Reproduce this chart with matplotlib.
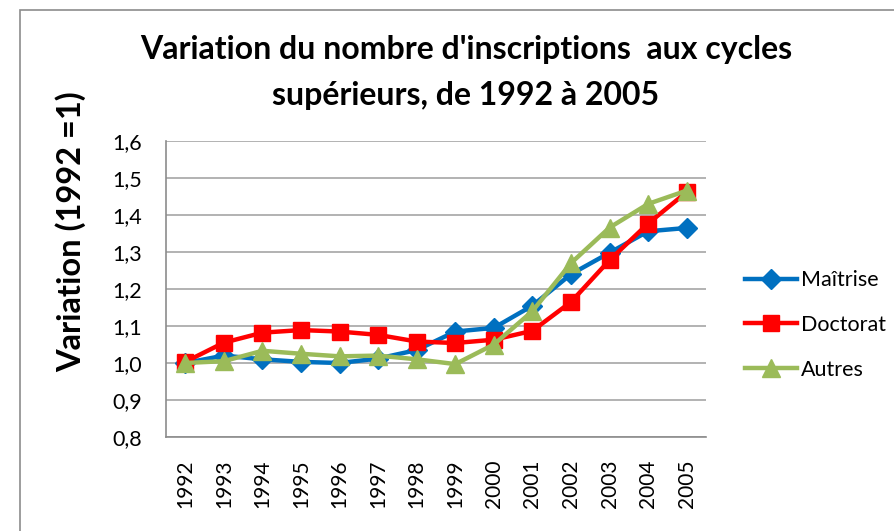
import matplotlib.pyplot as plt
from matplotlib.patches import Rectangle

years = ['1992', '1993', '1994', '1995', '1996', '1997', '1998',
         '1999', '2000', '2001', '2002', '2003', '2004', '2005']
maitrise = [1.0, 1.02, 1.01, 1.003, 1.0, 1.012, 1.035,
            1.085, 1.095, 1.155, 1.24, 1.298, 1.356, 1.365]
doctorat = [1.003, 1.055, 1.082, 1.089, 1.085, 1.076, 1.058,
            1.054, 1.063, 1.087, 1.165, 1.278, 1.377, 1.462]
autres = [1.0, 1.005, 1.033, 1.025, 1.018, 1.02, 1.01,
          0.997, 1.05, 1.14, 1.27, 1.366, 1.43, 1.466]

plt.rcParams['font.family'] = ['Lato', 'DejaVu Sans']

W, H = 895, 531
fig = plt.figure(figsize=(W / 100, H / 100), dpi=100)
ax = fig.add_axes([166 / W, 1 - 437 / H, 540 / W, 296 / H])

# chart frame
fig.patches.append(Rectangle((20 / W, -0.1), 1.0, 1 - 10 / H + 0.1,
                             transform=fig.transFigure, fill=False,
                             edgecolor='#8c8c8c', linewidth=1.2))

x = range(len(years))
ax.plot(x, maitrise, color='#0070C0', lw=3.2, marker='D', ms=10,
        label='Maîtrise', zorder=3)
ax.plot(x, doctorat, color='#FF0000', lw=3.2, marker='s', ms=12,
        label='Doctorat', zorder=4)
ax.plot(x, autres, color='#9BBB59', lw=3.2, marker='^', ms=13,
        label='Autres', zorder=5)

ax.set_xlim(-0.5, len(years) - 0.5)
ax.set_ylim(0.8, 1.6)
ax.set_yticks([0.8, 0.9, 1.0, 1.1, 1.2, 1.3, 1.4, 1.5, 1.6])
ax.set_yticklabels(['0,8', '0,9', '1,0', '1,1', '1,2', '1,3', '1,4', '1,5', '1,6'],
                   fontsize=15.5)
ax.set_xticks(list(x))
ax.set_xticklabels(years, rotation=90, fontsize=15)
ax.tick_params(axis='y', length=0, pad=17)
ax.tick_params(axis='x', length=0, pad=16)
ax.grid(axis='y', color='#a6a6a6', lw=1.2)
ax.set_axisbelow(True)
for s in ['top', 'right']:
    ax.spines[s].set_visible(False)
for s in ['left', 'bottom']:
    ax.spines[s].set_color('#8c8c8c')
    ax.spines[s].set_linewidth(1.2)

ax.set_ylabel('Variation (1992 =1)', fontsize=23.5, fontweight='bold')
ax.yaxis.set_label_coords(-0.148, (437 - 232) / 296)

fig.text(466 / W, 1 - 50 / H, "Variation du nombre d'inscriptions  aux cycles",
         ha='center', va='center', fontsize=23, fontweight='bold')
fig.text(466 / W, 1 - 95 / H, "supérieurs, de 1992 à 2005",
         ha='center', va='center', fontsize=23, fontweight='bold')

ax.legend(loc='center left', bbox_to_anchor=(1.057, (437 - 325) / 296),
          frameon=False, fontsize=15.5, handlelength=2.4, labelspacing=1.15,
          handletextpad=0.2, borderaxespad=0)

fig.savefig('out.png', dpi=100)
